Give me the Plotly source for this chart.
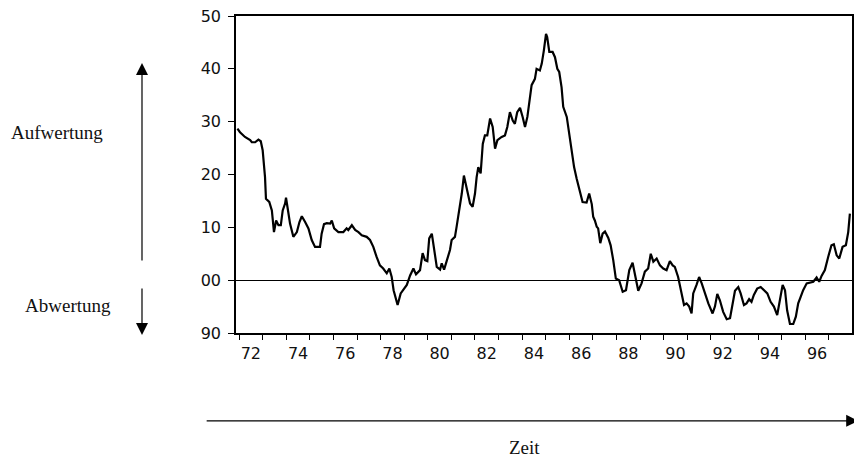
import plotly.graph_objects as go

# Wechselkurs-Abweichung (Jahr als Dezimalzahl, Wert in %)
jahr = [1971.93, 1972.04, 1972.25, 1972.47, 1972.54, 1972.68, 1972.82, 1972.92, 1973.00, 1973.10,
        1973.14, 1973.28, 1973.39, 1973.48, 1973.57, 1973.67, 1973.77, 1973.85, 1973.95, 1973.99,
        1974.05, 1974.16, 1974.30, 1974.45, 1974.56, 1974.66, 1974.80, 1974.94, 1975.08, 1975.22,
        1975.43, 1975.50, 1975.60, 1975.72, 1975.86, 1975.93, 1976.03, 1976.21, 1976.42, 1976.56,
        1976.63, 1976.78, 1976.92, 1977.06, 1977.20, 1977.41, 1977.55, 1977.69, 1977.83, 1977.97,
        1978.11, 1978.26, 1978.37, 1978.47, 1978.55, 1978.65, 1978.72, 1978.85, 1978.96, 1979.11,
        1979.25, 1979.39, 1979.50, 1979.67, 1979.78, 1979.88, 1979.98, 1980.06, 1980.17, 1980.26,
        1980.38, 1980.52, 1980.59, 1980.69, 1980.80, 1980.94, 1981.01, 1981.15, 1981.22, 1981.33,
        1981.44, 1981.53, 1981.65, 1981.79, 1981.90, 1982.00, 1982.07, 1982.14, 1982.24, 1982.33,
        1982.42, 1982.52, 1982.64, 1982.75, 1982.85, 1982.95, 1983.13, 1983.27, 1983.37, 1983.48,
        1983.60, 1983.69, 1983.79, 1983.91, 1984.02, 1984.12, 1984.22, 1984.30, 1984.40, 1984.54,
        1984.61, 1984.75, 1984.83, 1984.92, 1985.01, 1985.06, 1985.15, 1985.29, 1985.39, 1985.49,
        1985.57, 1985.67, 1985.74, 1985.89, 1986.00, 1986.10, 1986.20, 1986.31, 1986.42, 1986.56,
        1986.73, 1986.84, 1986.95, 1987.01, 1987.08, 1987.16, 1987.22, 1987.31, 1987.41, 1987.51,
        1987.65, 1987.75, 1987.86, 1987.97, 1988.11, 1988.26, 1988.40, 1988.54, 1988.68, 1988.78,
        1988.92, 1989.06, 1989.20, 1989.34, 1989.45, 1989.56, 1989.70, 1989.84, 1989.98, 1990.12,
        1990.26, 1990.38, 1990.47, 1990.61, 1990.76, 1990.86, 1990.97, 1991.08, 1991.18, 1991.25,
        1991.39, 1991.50, 1991.61, 1991.75, 1991.89, 1992.07, 1992.17, 1992.27, 1992.38, 1992.52,
        1992.67, 1992.81, 1992.92, 1993.02, 1993.16, 1993.26, 1993.40, 1993.51, 1993.62, 1993.72,
        1993.82, 1993.96, 1994.11, 1994.25, 1994.39, 1994.53, 1994.67, 1994.81, 1994.92, 1995.04,
        1995.14, 1995.23, 1995.35, 1995.49, 1995.60, 1995.70, 1995.80, 1995.91, 1996.06, 1996.20,
        1996.34, 1996.48, 1996.59, 1996.69, 1996.83, 1996.97, 1997.11, 1997.21, 1997.33, 1997.44,
        1997.58, 1997.72, 1997.82, 1997.89]

wert = [28.7, 28.0, 27.1, 26.5, 26.1, 26.1, 26.6, 26.3, 24.6, 19.5,
        15.4, 14.8, 13.2, 9.1, 11.3, 10.4, 10.4, 13.2, 14.5, 15.6,
        13.9, 10.7, 8.2, 9.1, 11.0, 12.1, 11.0, 9.8, 7.6, 6.3,
        6.3, 8.8, 10.6, 10.8, 10.7, 11.3, 9.8, 9.1, 9.1, 9.8,
        9.5, 10.4, 9.5, 9.1, 8.5, 8.2, 7.6, 6.3, 4.4, 2.8,
        2.2, 1.3, 2.2, 0.6, -1.9, -3.5, -4.7, -2.5, -1.8, -0.9,
        0.9, 2.2, 1.1, 1.9, 5.1, 3.8, 3.6, 7.9, 8.8, 5.7,
        2.5, 2.0, 3.2, 2.0, 3.8, 5.7, 7.6, 8.2, 10.1, 12.9,
        16.4, 19.8, 17.3, 14.5, 13.9, 16.4, 19.5, 21.4, 20.2, 25.8,
        27.4, 27.4, 30.6, 29.0, 24.9, 26.5, 27.1, 27.4, 29.0, 31.8,
        30.2, 29.6, 31.8, 32.6, 30.9, 29.0, 30.9, 33.4, 36.9, 38.1,
        40.0, 39.7, 41.0, 43.5, 46.6, 46.0, 43.2, 43.2, 42.2, 40.0,
        39.4, 36.5, 32.8, 30.9, 27.7, 24.0, 21.4, 19.2, 17.2, 14.8,
        14.7, 16.4, 14.4, 12.0, 11.3, 10.1, 9.8, 7.0, 8.8, 9.2,
        8.0, 6.6, 3.8, 0.3, 0.0, -2.2, -1.9, 1.9, 3.3, 1.3,
        -2.0, -0.6, 1.6, 2.2, 5.0, 3.5, 4.1, 2.8, 2.2, 1.9,
        3.6, 2.8, 2.5, 0.6, -2.5, -4.7, -4.4, -5.0, -6.3, -2.5,
        -0.9, 0.6, -0.6, -2.5, -4.4, -6.3, -5.0, -2.6, -3.8, -6.0,
        -7.4, -7.2, -4.4, -2.0, -1.3, -2.5, -4.7, -4.4, -3.6, -4.1,
        -2.8, -1.6, -1.3, -1.9, -2.5, -4.1, -5.0, -6.6, -4.1, -0.9,
        -1.9, -5.7, -8.3, -8.3, -6.9, -4.4, -3.2, -1.9, -0.6, -0.5,
        -0.3, 0.5, -0.3, 0.8, 1.9, 4.4, 6.6, 6.8, 4.7, 4.1,
        6.3, 6.6, 9.1, 12.6]

y_ticks = [-10, 0, 10, 20, 30, 40, 50]
y_labels = ["90", "00", "10", "20", "30", "40", "50"]
x_ticks = [1972.5 + 2 * i for i in range(13)]
x_labels = ["72", "74", "76", "78", "80", "82", "84", "86", "88", "90", "92", "94", "96"]
jahre = list(range(1972, 1998))

fig = go.Figure()
fig.add_trace(go.Scatter(x=jahr, y=wert, mode='lines',
                         line=dict(color='black', width=2.2), showlegend=False))

tickfont = dict(family='DejaVu Sans', size=16, color='#111')
fig.update_xaxes(range=[1971.87, 1997.98], tickmode='array', tickvals=x_ticks, ticktext=x_labels,
                 ticks='outside', ticklen=0, ticklabelstandoff=5, tickfont=tickfont,
                 showgrid=False, zeroline=False, showline=True, linecolor='black', linewidth=1.6,
                 mirror=True, automargin=False, ticklabeloverflow='allow',
                 minor=dict(tickmode='array', tickvals=jahre, ticks='outside', ticklen=5,
                            tickcolor='black', tickwidth=1.2, showgrid=False))
fig.update_yaxes(range=[-10, 50], tickmode='array', tickvals=y_ticks, ticktext=y_labels,
                 ticks='outside', ticklen=6, tickcolor='black', tickwidth=1.2,
                 ticklabelstandoff=4, tickfont=tickfont, automargin=False,
                 ticklabeloverflow='allow',
                 showgrid=False, zeroline=True, zerolinecolor='black', zerolinewidth=1.2,
                 showline=True, linecolor='black', linewidth=1.6, mirror=True)

serif = dict(family='Liberation Serif', size=19, color='#111')
# Pfeile (Spitze bei x/y, Schwanz ueber ax/ay in Pixeln)
pfeil = dict(xref='paper', yref='paper', text='', showarrow=True, arrowhead=2,
             arrowsize=2, arrowwidth=1.2, arrowcolor='black')
fig.add_annotation(x=-0.1526, y=0.852, ax=0, ay=199, **pfeil)
fig.add_annotation(x=-0.1526, y=-0.006, ax=0, ay=-48, **pfeil)
fig.add_annotation(x=1.010, y=-0.277, ax=-653, ay=0, **pfeil)

fig.add_annotation(x=-0.2906, y=0.631, xref='paper', yref='paper', text='Aufwertung',
                   showarrow=False, font=serif, xanchor='center', yanchor='middle')
fig.add_annotation(x=-0.2732, y=0.088, xref='paper', yref='paper', text='Abwertung',
                   showarrow=False, font=serif, xanchor='center', yanchor='middle')
fig.add_annotation(x=0.469, y=-0.36, xref='paper', yref='paper', text='Zeit',
                   showarrow=False, font=serif, xanchor='center', yanchor='middle')

# Seite hat 8px Rand, daher kleinere Figur und Raender
fig.update_layout(width=854, height=454, margin=dict(l=228, r=10, t=8, b=129),
                  plot_bgcolor='white', paper_bgcolor='white')
fig.write_html("out.html")
